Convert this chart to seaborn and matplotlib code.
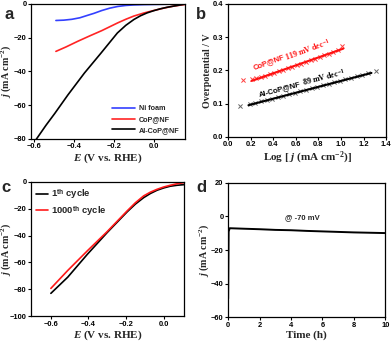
import matplotlib
matplotlib.use("Agg")
import matplotlib.pyplot as plt
import seaborn as sns

# panel a: LSV curves
a_E = {
    "Ni foam": [-0.49, -0.45, -0.41, -0.37, -0.33, -0.30, -0.26, -0.22, -0.18, -0.14, -0.10, -0.05, 0.0, 0.05, 0.10, 0.157],
    "CoP@NF": [-0.49, -0.44, -0.38, -0.32, -0.26, -0.22, -0.18, -0.14, -0.10, -0.05, 0.0, 0.05, 0.10, 0.157],
    "Al-CoP@NF": [-0.60, -0.587, -0.54, -0.496, -0.43, -0.347, -0.264, -0.182, -0.14, -0.099, -0.066, -0.033, 0.0, 0.033, 0.066, 0.099, 0.157],
}
a_j = {
    "Ni foam": [-9.9, -9.7, -9.2, -8.3, -6.8, -5.7, -4.0, -2.6, -1.6, -1.0, -0.7, -0.5, -0.4, -0.3, -0.15, 0.0],
    "CoP@NF": [-28.2, -25.6, -22.2, -19.0, -15.9, -13.6, -11.3, -9.2, -7.3, -5.5, -4.0, -2.6, -1.4, -0.4],
    "Al-CoP@NF": [-82.5, -80.0, -72.0, -65.0, -54.0, -41.0, -29.2, -17.3, -12.8, -9.3, -7.1, -5.4, -4.1, -3.0, -2.1, -1.4, -0.2],
}
a_colors = {"Ni foam": "#3340ff", "CoP@NF": "#ff2424", "Al-CoP@NF": "#000000"}

# panel b: Tafel plots
b_cop_x = [0.128, 0.21, 0.25, 0.29, 0.33, 0.37, 0.41, 0.45, 0.49, 0.53, 0.57, 0.61, 0.65, 0.69,
           0.73, 0.77, 0.81, 0.85, 0.89, 0.93, 0.97, 1.01]
b_cop_y = [0.172, 0.175, 0.177, 0.180, 0.184, 0.188, 0.193, 0.197, 0.202, 0.206, 0.211, 0.216,
           0.220, 0.225, 0.230, 0.235, 0.240, 0.245, 0.250, 0.256, 0.262, 0.272]
b_al_x = [0.104, 0.19, 0.24, 0.29, 0.34, 0.39, 0.44, 0.49, 0.54, 0.59, 0.64, 0.69, 0.74, 0.79,
          0.84, 0.89, 0.94, 0.99, 1.04, 1.09, 1.14, 1.19, 1.24, 1.31]
b_al_y = [0.093, 0.099, 0.103, 0.107, 0.111, 0.115, 0.119, 0.124, 0.128, 0.133, 0.137, 0.142,
          0.146, 0.151, 0.155, 0.160, 0.164, 0.169, 0.173, 0.178, 0.182, 0.187, 0.191, 0.197]
b_cop_fit_x = [0.208, 1.02]
b_cop_fit_y = [0.168, 0.265]
b_al_fit_x = [0.18, 1.27]
b_al_fit_y = [0.095, 0.192]

# panel c: stability before/after cycling
c_E = [-0.60, -0.51, -0.406, -0.30, -0.194, -0.15, -0.106, -0.07, -0.035, 0.0, 0.035, 0.07, 0.11]
c_j_1 = [-83.1, -71.0, -54.0, -37.7, -22.3, -16.5, -11.7, -8.6, -6.2, -4.5, -3.2, -2.5, -2.0]
c_j_1000 = [-79.4, -66.0, -51.4, -37.0, -21.6, -15.5, -10.4, -7.6, -5.5, -3.8, -2.5, -1.4, -0.5]

# panel d: chronoamperometry
d_t = [0.0, 0.03, 0.1, 1, 2, 3, 4, 5, 6, 7, 8, 9, 10]
d_j = [-49.0, -9.0, -7.0, -7.3, -7.6, -8.0, -8.2, -8.6, -8.9, -9.2, -9.5, -9.7, -9.9]

sns.set_theme(style="ticks")
plt.rcParams["font.family"] = ["Liberation Sans", "DejaVu Sans"]
plt.rcParams["font.weight"] = "bold"
plt.rcParams["mathtext.fontset"] = "custom"
plt.rcParams["mathtext.rm"] = "Liberation Serif:bold"
plt.rcParams["mathtext.it"] = "Liberation Serif:italic:bold"
plt.rcParams["mathtext.bf"] = "Liberation Serif:bold"
plt.rcParams["mathtext.sf"] = "Liberation Sans:bold"

serif = dict(family="Liberation Serif", weight="bold", size=8)
yserif = dict(family="Liberation Serif", weight="bold", size=7.2)
tick_fs = 5.4
fig = plt.figure(figsize=(3.92, 3.42), dpi=100)
ax_a = fig.add_axes([0.079, 0.594, 0.393, 0.395])
ax_b = fig.add_axes([0.582, 0.600, 0.403, 0.389])
ax_c = fig.add_axes([0.079, 0.076, 0.391, 0.392])
ax_d = fig.add_axes([0.582, 0.073, 0.401, 0.392])

for ax in (ax_a, ax_b, ax_c, ax_d):
    for s in ax.spines.values():
        s.set_visible(True)
        s.set_linewidth(0.9)
        s.set_color("black")
    ax.tick_params(direction="out", length=2.5, width=0.8, pad=0.8, labelsize=tick_fs, colors="black")

# a
for name in ["Ni foam", "CoP@NF", "Al-CoP@NF"]:
    sns.lineplot(x=a_E[name], y=a_j[name], ax=ax_a, color=a_colors[name], lw=1.2,
                 sort=False, estimator=None, label=name)
ax_a.set_xlim(-0.615, 0.157)
ax_a.set_ylim(-80, 0)
ax_a.set_xticks([-0.6, -0.4, -0.2, 0.0])
ax_a.set_yticks([-80, -60, -40, -20, 0])
ax_a.set_xlabel(r"$E$ (V vs. RHE)", fontdict=serif, labelpad=1)
ax_a.set_ylabel(r"$j$ (mA cm$^{-2}$)", fontdict=yserif)
ax_a.yaxis.set_label_coords(-0.116, 0.5)
ax_a.legend(loc="lower right", frameon=False, fontsize=5.2, handlelength=3.2,
            handletextpad=0.6, labelspacing=0.5, borderaxespad=0.3)

# b
sns.scatterplot(x=b_cop_x, y=b_cop_y, ax=ax_b, marker="x", color="#ff4040", s=9, linewidth=0.7)
sns.scatterplot(x=b_al_x, y=b_al_y, ax=ax_b, marker="x", color="#666666", s=9, linewidth=0.7)
sns.lineplot(x=b_cop_fit_x, y=b_cop_fit_y, ax=ax_b, color="#ff1010", lw=1.5)
sns.lineplot(x=b_al_fit_x, y=b_al_fit_y, ax=ax_b, color="black", lw=1.5)
ax_b.set_xlim(0, 1.4)
ax_b.set_ylim(0, 0.4)
ax_b.set_xticks([0.0, 0.2, 0.4, 0.6, 0.8, 1.0, 1.2, 1.4])
ax_b.set_yticks([0.0, 0.1, 0.2, 0.3, 0.4])
ax_b.set_xticklabels(["0.0", "0.2", "0.4", "0.6", "0.8", "1.0", "1.2", "1.4"])
ax_b.set_yticklabels(["0.0", "0.1", "0.2", "0.3", "0.4"])
ax_b.set_xlabel(r"Log [ $j$ (mA cm$^{-2}$)]", fontdict=serif, labelpad=1)
ax_b.set_ylabel("Overpotential / V", fontdict=yserif)
ax_b.yaxis.set_label_coords(-0.10, 0.5)
ax_b.text(0.231, 0.204, "CoP@NF", color="#ff1010", fontsize=5.5, fontweight="bold",
          rotation=20, rotation_mode="anchor")
ax_b.text(0.518, 0.229, r"119 mV dec$^{-1}$", color="#ff1010", rotation=20, rotation_mode="anchor",
          family="Liberation Serif", weight="bold", size=5.8)
ax_b.text(0.275, 0.121, "Al-CoP@NF", color="black", fontsize=5.5, fontweight="bold",
          rotation=14.5, rotation_mode="anchor")
ax_b.text(0.666, 0.153, r"89 mV dec$^{-1}$", color="black", rotation=14.5, rotation_mode="anchor",
          family="Liberation Serif", weight="bold", size=5.8)

# c
sns.lineplot(x=c_E, y=c_j_1, ax=ax_c, color="black", lw=1.2, sort=False, estimator=None,
             label=r"1$^{\mathsf{th}}$ cycle")
sns.lineplot(x=c_E, y=c_j_1000, ax=ax_c, color="#ff1a1a", lw=1.2, sort=False, estimator=None,
             label=r"1000$^{\mathsf{th}}$ cycle")
ax_c.set_xlim(-0.706, 0.11)
ax_c.set_ylim(-100, 0)
ax_c.set_xticks([-0.6, -0.4, -0.2, 0.0])
ax_c.set_yticks([-100, -80, -60, -40, -20, 0])
ax_c.set_xlabel(r"$E$ (V vs. RHE)", fontdict=serif, labelpad=1)
ax_c.set_ylabel(r"$j$ (mA cm$^{-2}$)", fontdict=yserif)
ax_c.yaxis.set_label_coords(-0.118, 0.5)
ax_c.legend(loc="upper left", frameon=False, fontsize=6.8, handlelength=1.3,
            handletextpad=0.3, labelspacing=0.3, borderaxespad=0.15)

# d
sns.lineplot(x=d_t, y=d_j, ax=ax_d, color="black", lw=1.4, sort=False, estimator=None)
ax_d.set_xlim(0, 10)
ax_d.set_ylim(-60, 20)
ax_d.set_xticks([0, 2, 4, 6, 8, 10])
ax_d.set_yticks([-60, -40, -20, 0, 20])
ax_d.set_xlabel("Time (h)", fontdict=serif, labelpad=1)
ax_d.set_ylabel(r"$j$ (mA cm$^{-2}$)", fontdict=yserif)
ax_d.yaxis.set_label_coords(-0.11, 0.5)
ax_d.text(4.75, -0.9, "@ -70 mV", ha="center", va="center", fontsize=5.5, fontweight="bold")

for ax in (ax_a, ax_b, ax_c, ax_d):
    for lab in ax.get_xticklabels() + ax.get_yticklabels():
        lab.set_fontweight("bold")
        lab.set_fontsize(tick_fs)

fig.text(0.012, 0.945, "a", fontsize=12, fontweight="bold")
fig.text(0.500, 0.945, "b", fontsize=12, fontweight="bold")
fig.text(0.004, 0.440, "c", fontsize=12, fontweight="bold")
fig.text(0.500, 0.440, "d", fontsize=12, fontweight="bold")

fig.savefig("out.png", dpi=100)
